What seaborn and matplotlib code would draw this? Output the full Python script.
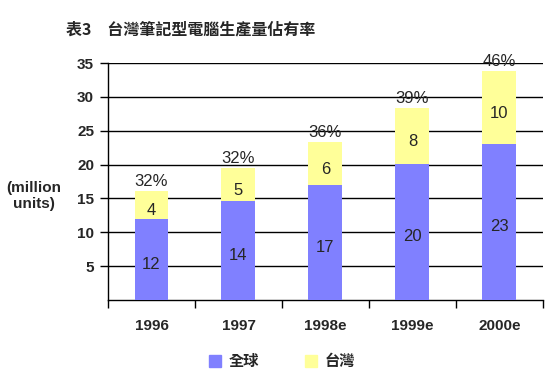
import pandas as pd
import numpy as np
import matplotlib.pyplot as plt
import seaborn as sns
from matplotlib.patches import Patch

sns.set_style('white')
plt.rcParams['font.family'] = ['Liberation Sans', 'Noto Sans CJK TC']

# data (million units)
years = ['1996', '1997', '1998e', '1999e', '2000e']
world = [12.0, 14.6, 17.0, 20.1, 23.0]
taiwan = [4.1, 4.9, 6.3, 8.3, 10.8]
world_labels = ['12', '14', '17', '20', '23']
taiwan_labels = ['4', '5', '6', '8', '10']
share_labels = ['32%', '32%', '36%', '39%', '46%']

df = pd.DataFrame({'year': years, 'world': world, 'taiwan': taiwan})
df['total'] = df.world + df.taiwan

blue = '#8080FF'
yellow = '#FFFF99'

fig = plt.figure(figsize=(5.58, 3.87), dpi=100)
ax = fig.add_axes([0.1935, 0.2248, 0.7795, 0.6122])

sns.barplot(df, x='year', y='total', color=yellow, width=0.39, saturation=1, linewidth=0, ax=ax, zorder=3)
sns.barplot(df, x='year', y='world', color=blue, width=0.39, saturation=1, linewidth=0, ax=ax, zorder=3)

for i, row in df.iterrows():
    ax.text(i, row.world / 2 - 0.7, world_labels[i], ha='center', va='center', fontsize=12, zorder=4)
    ax.text(i, row.world + row.taiwan / 2 - 0.8, taiwan_labels[i], ha='center', va='center', fontsize=12, zorder=4)
    ax.annotate(share_labels[i], (i, row.total), xytext=(0, 1.5), textcoords='offset points',
                ha='center', va='bottom', fontsize=12, zorder=4)

ax.set_xlim(-0.5, 4.5)
ax.set_ylim(0, 35)
ax.set_yticks(range(5, 40, 5))
ax.yaxis.grid(True, color='black', linewidth=1)
ax.set_axisbelow(True)
for s in ['top', 'right']:
    ax.spines[s].set_visible(False)
for s in ['left', 'bottom']:
    ax.spines[s].set_color('black')
    ax.spines[s].set_linewidth(1)

ax.set_xticks(np.arange(-0.5, 5, 1), minor=False)
ax.set_xticklabels([])
ax.set_xticks(range(5), minor=True)
ax.set_xticklabels(years, minor=True, fontweight='bold', fontsize=11)
ax.tick_params(axis='x', which='major', length=6, width=1, color='black', direction='out', bottom=True)
ax.tick_params(axis='x', which='minor', length=0, pad=14)
ax.tick_params(axis='y', length=6, width=1, color='black', direction='out', left=True, pad=4)
for t in ax.get_yticklabels():
    t.set_fontweight('bold')
    t.set_fontsize(11)
ax.set_xlabel('')
ax.set_ylabel('(million\nunits)', rotation=0, fontsize=11, fontweight='bold', ha='center', va='center')
ax.yaxis.set_label_coords(-0.17, 0.44)

fig.text(0.118, 0.925, '表3　台灣筆記型電腦生產量佔有率', fontsize=11.5, fontweight='bold',
         family=['Noto Sans CJK TC'], va='center')

handles = [Patch(color=blue), Patch(color=yellow)]
fig.legend(handles, ['全球', '台灣'], loc='center', bbox_to_anchor=(0.505, 0.067), ncol=2,
           frameon=False, handlelength=0.8, handleheight=0.8, columnspacing=3.0, handletextpad=0.5,
           prop={'family': 'Noto Sans CJK TC', 'weight': 'bold', 'size': 11})

plt.savefig('out.png', dpi=100)
